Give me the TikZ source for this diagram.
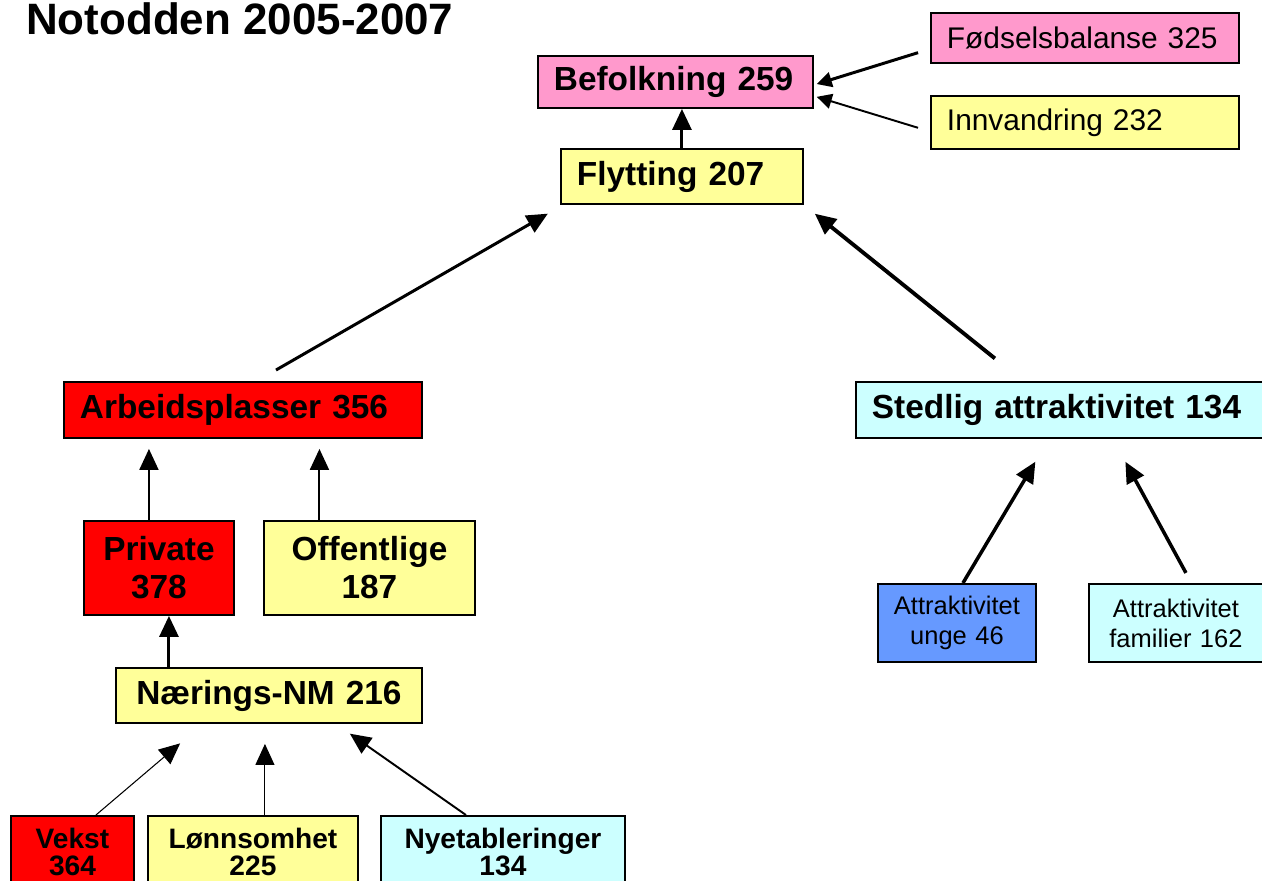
\documentclass[tikz,border=0pt]{standalone}
\usepackage{fontspec}
\setmainfont{Liberation Sans}
\usetikzlibrary{arrows.meta, calc}
\definecolor{cPink}{RGB}{255,153,204}
\definecolor{cYellow}{RGB}{255,255,153}
\definecolor{cRed}{RGB}{255,0,0}
\definecolor{cCyan}{RGB}{204,255,255}
\definecolor{cBlue}{RGB}{102,153,255}
\tikzset{
	box/.style     ={rectangle, draw=black, line width=1.1pt, anchor=north west, inner xsep=0.32cm, inner ysep=0pt, align=left},
	ctr/.style     ={align=center},
	% text sizes
	bigtxt/.style  ={font=\fontsize{19}{21.6}\selectfont\bfseries},
	midtxt/.style  ={font=\fontsize{16}{15.2}\selectfont\bfseries},
	sidetxt/.style ={font=\fontsize{17}{20}\selectfont},
	smalltxt/.style={font=\fontsize{14.5}{17}\selectfont, inner xsep=0.1cm},
	% arrows
	pil/.style     ={-{Triangle[length=0.42cm, width=0.38cm]}, line width=1.7pt},
	lite/.style    ={-{Triangle[length=0.3cm, width=0.3cm]}},
	tynn/.style    ={line width=0.6pt},
	mid/.style     ={line width=1.1pt},
	tykk/.style    ={line width=2.2pt},
}
\begin{document}
\begin{tikzpicture}[x=0.02cm, y=-0.02cm]
	\useasboundingbox (0,0) rectangle (1262,880);
	\node[anchor=base west, font=\fontsize{25}{30}\selectfont\bfseries] (titel) at (20,34) {Notodden 2005-2007};
	\node[box, bigtxt, fill=cPink, text width=4.86cm, minimum height=1.04cm] (bef) at (537,55) {Befolkning 259};
	\node[box, sidetxt, fill=cPink, text width=5.52cm, minimum height=1.0cm] (fod) at (930,12) {Fødselsbalanse 325};
	\node[box, sidetxt, fill=cYellow, text width=5.52cm, minimum height=1.06cm] (inn) at (930,95) {Innvandring 232};
	\node[box, bigtxt, fill=cYellow, text width=4.2cm, minimum height=1.1cm] (fly) at (560,148) {Flytting 207};
	\node[box, bigtxt, fill=cRed, text width=6.52cm, minimum height=1.12cm] (arb) at (63,381) {Arbeidsplasser 356};
	\node[box, bigtxt, fill=cCyan, text width=7.76cm, minimum height=1.12cm] (sted) at (855,381) {Stedlig attraktivitet 134};
	\node[box, bigtxt, ctr, fill=cRed, text width=2.36cm, minimum height=1.88cm] (priv) at (83,520) {Private\\378};
	\node[box, bigtxt, ctr, fill=cYellow, text width=3.58cm, minimum height=1.88cm] (off) at (263,520) {Offentlige\\187};
	\node[box, bigtxt, ctr, fill=cYellow, text width=5.48cm, minimum height=1.1cm] (naer) at (115,667) {Nærings-NM 216};
	\node[box, midtxt, ctr, fill=cRed, text width=1.82cm, minimum height=1.44cm] (vek) at (10,815) {Vekst\\364};
	\node[box, midtxt, ctr, fill=cYellow, text width=3.56cm, minimum height=1.44cm] (lon) at (147,815) {Lønnsomhet\\225};
	\node[box, midtxt, ctr, fill=cCyan, text width=4.24cm, minimum height=1.44cm] (nye) at (380,815) {Nyetableringer\\134};
	\node[box, smalltxt, ctr, fill=cBlue, text width=2.96cm, minimum height=1.56cm] (ung) at (877,583) {Attraktivitet\\unge 46};
	\node[box, smalltxt, ctr, fill=cCyan, text width=3.28cm, minimum height=1.56cm] (fam) at (1088,583) {Attraktivitet\\familier 162};
	\draw[pil] (fly.north) -- (fly.north |- bef.south);
	\draw[pil, lite, shorten <=0.25cm, shorten >=0.06cm] ([yshift=-0.22cm]fod.west) -- ([yshift=-0.06cm]bef.east);
	\draw[pil, lite, mid, shorten <=0.25cm, shorten >=0.06cm] ([yshift=-0.18cm]inn.west) -- ([yshift=-0.28cm]bef.east);
	\draw[pil, shorten <=0.44cm, shorten >=0.35cm] ([xshift=0.28cm]arb.north) -- ([xshift=0.06cm]fly.south west);
	\draw[pil, tykk, shorten <=0.72cm, shorten >=0.28cm] ([xshift=3.36cm]sted.north west) -- (fly.south east);
	\draw[pil, mid, shorten >=0.2cm] ([xshift=-0.2cm]priv.north) -- ([xshift=-0.2cm]priv.north |- arb.south);
	\draw[pil, mid, shorten >=0.2cm] ([xshift=-1cm]off.north) -- ([xshift=-1cm]off.north |- arb.south);
	\draw[pil] ([xshift=0.2cm]priv.south |- naer.north) -- ([xshift=0.2cm]priv.south);
	\draw[pil, tynn, shorten >=0.6cm] ([xshift=0.47cm]vek.north) -- ([xshift=1.76cm]naer.south west);
	\draw[pil, tynn, shorten >=0.4cm] ([xshift=0.24cm]lon.north) -- ([xshift=0.24cm]lon.north |- naer.south);
	\draw[pil, mid, shorten >=0.34cm] ([xshift=-0.74cm]nye.north) -- ([xshift=4.42cm]naer.south west);
	\draw[pil, line width=2pt, shorten >=0.53cm] ([xshift=0.12cm]ung.north) -- ([xshift=3.88cm]sted.south west);
	\draw[pil, line width=2pt, shorten <=0.23cm, shorten >=0.52cm] ([xshift=0.31cm]fam.north) -- ([xshift=5.16cm]sted.south west);
\end{tikzpicture}
\end{document}
